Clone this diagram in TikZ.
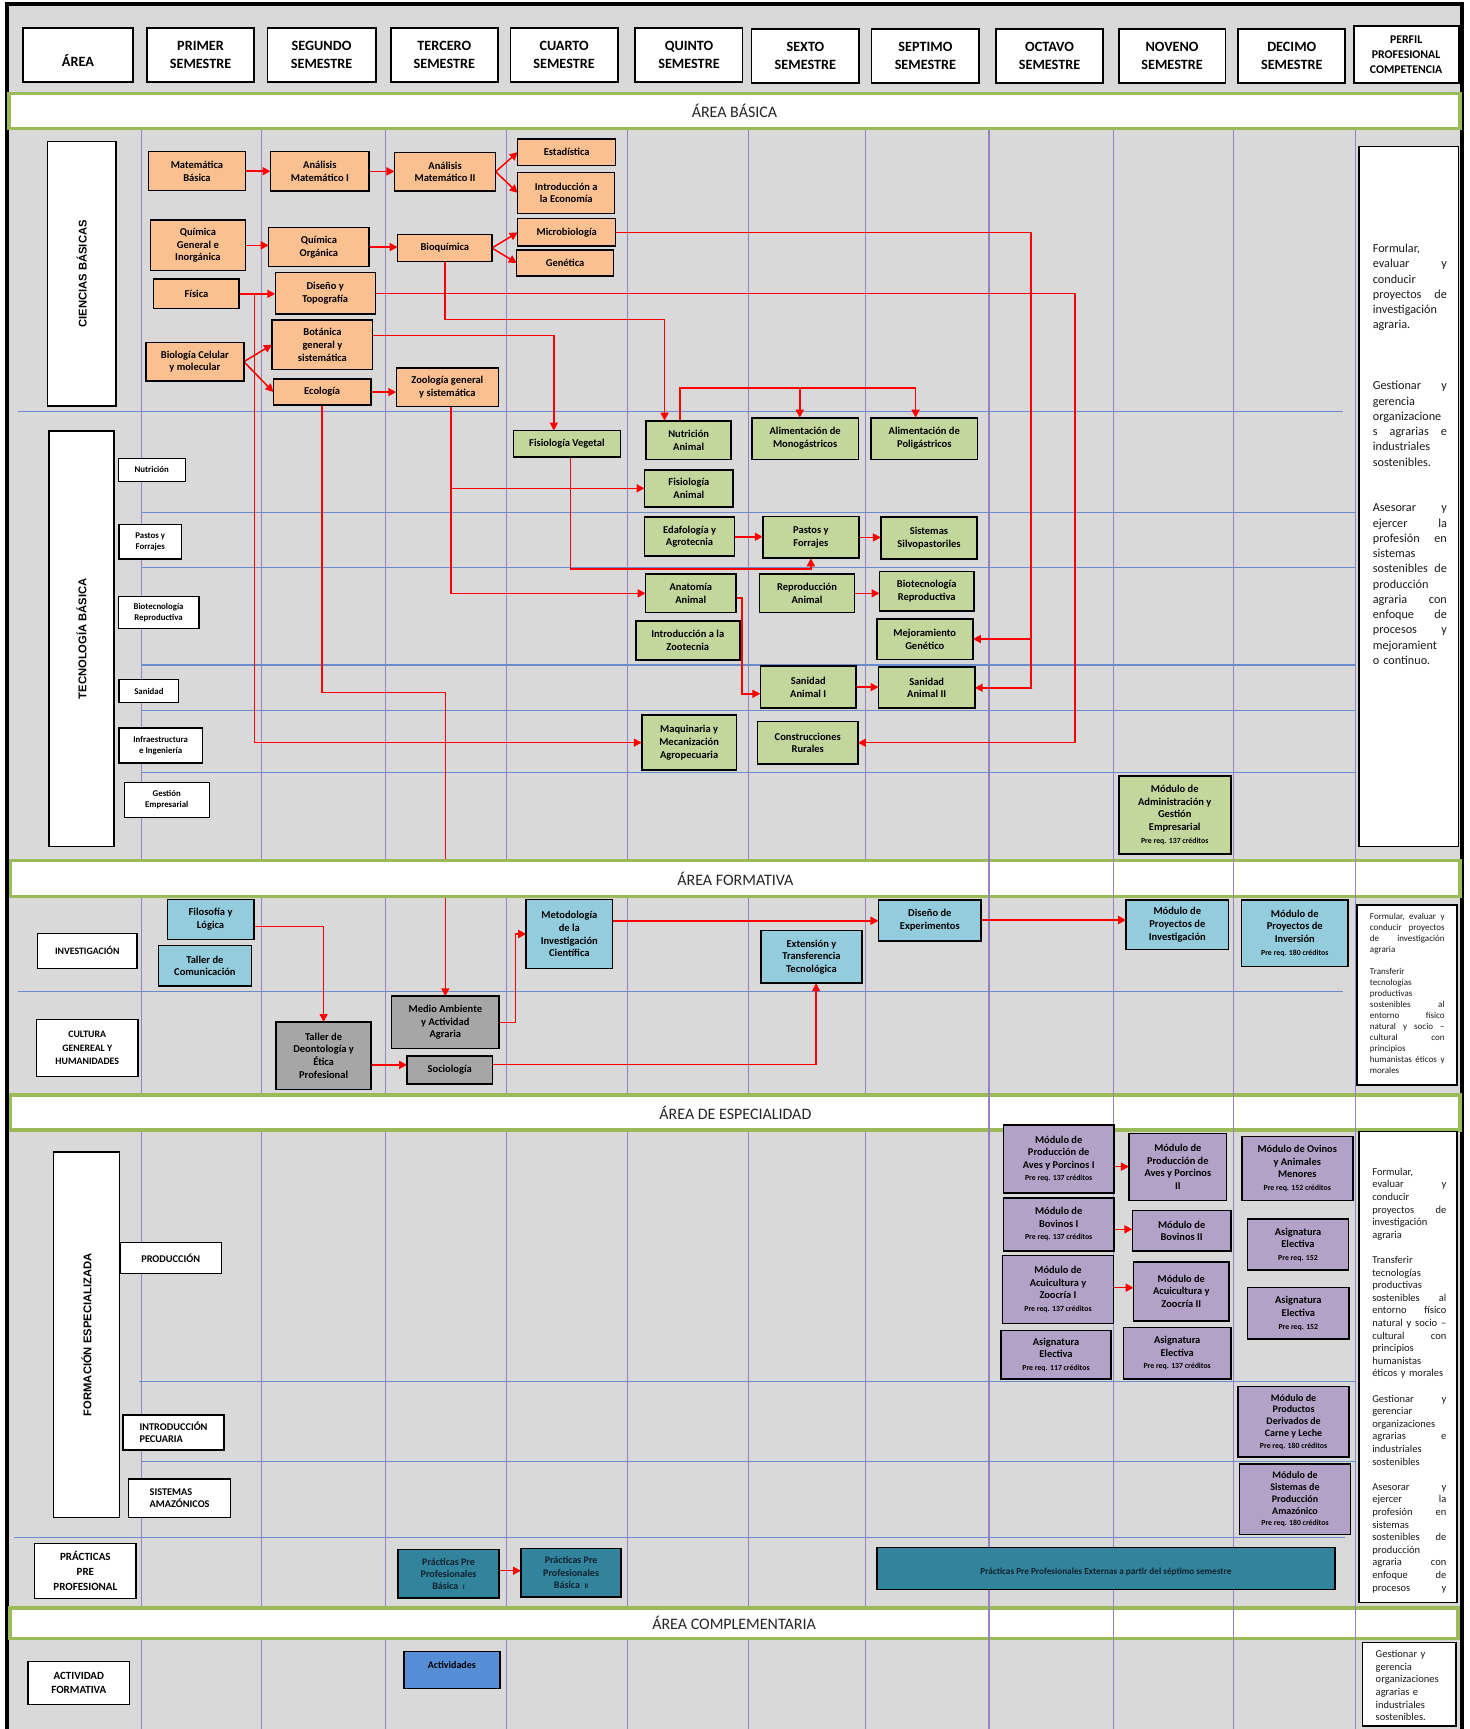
\documentclass[tikz,border=0pt]{standalone}
\usepackage{fontspec}
\setmainfont{Carlito}
\newfontfamily\lsans{Liberation Sans}
\usepackage{graphicx}
\usetikzlibrary{arrows.meta,fit,calc}
\definecolor{bgG}{HTML}{D9D9D9}
\definecolor{orangeF}{HTML}{FAC090}
\definecolor{greenF}{HTML}{C3D69B}
\definecolor{blueF}{HTML}{93CDDD}
\definecolor{grayF}{HTML}{A6A6A6}
\definecolor{purpF}{HTML}{B3A2C7}
\definecolor{tealF}{HTML}{31849B}
\definecolor{tealT}{HTML}{10202E}
\definecolor{actF}{HTML}{558ED5}
\definecolor{barG}{HTML}{9BBB59}
\definecolor{vline}{HTML}{9682C0}
\definecolor{hline}{HTML}{6A8CCB}
\pgfdeclarelayer{bg}\pgfdeclarelayer{conn}
\pgfsetlayers{bg,conn,main}
\newcommand{\mybx}[7]{\node[#2, fit={(#3,#4) (#5,#6)}] (#1) {};
  \node[#2, draw=none, fill=none, anchor=center] (#1t) at (#1.center) {#7};}
\newcommand{\fbx}{\bfseries\fontsize{10.5}{12.7}\selectfont}
\newcommand{\fpu}{\bfseries\fontsize{10.4}{12.6}\selectfont}
\newcommand{\fpus}{\bfseries\fontsize{10}{11.9}\selectfont}
\newcommand{\prq}{\fontsize{7.8}{9.4}\selectfont}
\newcommand{\fhd}{\bfseries\fontsize{14.2}{17.7}\selectfont}
\newcommand{\fpf}{\bfseries\fontsize{11.8}{14.8}\selectfont}
\newcommand{\fbar}{\fontsize{16}{19}\selectfont}
\newcommand{\flab}{\bfseries\fontsize{8.8}{10.5}\selectfont}
\newcommand{\flb}{\bfseries\fontsize{9.8}{13.3}\selectfont}
\newcommand{\flc}{\bfseries\fontsize{11}{14.7}\selectfont}
\newcommand{\fld}{\bfseries\fontsize{10.3}{12.3}\selectfont}
\newcommand{\fvert}{\lsans\bfseries\fontsize{11.2}{13}\selectfont}
\newcommand{\ftl}{\bfseries\fontsize{10}{12.3}\selectfont}
\newcommand{\fpa}{\fontsize{12.2}{15.25}\selectfont\hyphenpenalty=10000}
\newcommand{\fpb}{\fontsize{9}{11}\selectfont\hyphenpenalty=10000}
\newcommand{\fpc}{\fontsize{10.5}{12.6}\selectfont\hyphenpenalty=10000}
\newcommand{\fpd}{\fontsize{10.5}{12.7}\selectfont\hyphenpenalty=10000}
\begin{document}
\begin{tikzpicture}[x=1.105pt,y=-1.105pt,
  bb/.style={draw=black, line width=1.3pt, inner sep=0pt, outer sep=0pt, align=center, font=\fbx},
  ob/.style={bb, fill=orangeF},
  gb/.style={bb, fill=greenF, line width=1.7pt},
  fb/.style={bb, fill=blueF, line width=1.6pt},
  gyb/.style={bb, fill=grayF, line width=1.6pt},
  pb/.style={bb, fill=purpF, line width=1.6pt, font=\fpu},
  pbs/.style={bb, fill=purpF, line width=1.6pt, font=\fpus},
  tb/.style={bb, fill=tealF, line width=1.6pt, text=tealT, font=\ftl},
  hb/.style={bb, fill=white, line width=1.8pt, font=\fhd},
  lb/.style={bb, fill=white, line width=1.3pt, font=\flab},
  ab/.style={bb, fill=white, line width=1.5pt, font=\flb},
  ac/.style={bb, fill=white, line width=1.5pt, font=\flc},
  ad/.style={bb, fill=white, line width=1.5pt, font=\fld, align=left},
  vb/.style={bb, fill=white, line width=1.6pt, font=\fvert},
  wb/.style={bb, fill=white, line width=1.6pt},
  vtx/.style={font=\fvert, rotate=90, inner sep=0pt},
  ptxt/.style={anchor=north west, inner sep=0pt, outer sep=0pt, align=left, text=black!90},
  barst/.style={draw=barG, fill=white, line width=3.5pt, inner sep=0pt, font=\fbar, text=black!85},
  arr/.style={draw=red, line width=1.5pt, -{Triangle[length=8pt,width=8pt]}},
  vl/.style={draw=vline, line width=1.1pt},
  hl/.style={draw=hline, line width=1.1pt}]
\useasboundingbox (0,0) rectangle (1330.3,1564.7);
\begin{pgfonlayer}{bg}
\fill[bgG] (6,3.5) rectangle (1323,1564.7);
\foreach \x in {128,237,349,458,568,677,783,895,1008,1116,1227} \draw[vl] (\x,118) -- (\x,1564.7);
\draw[hl] (16,372.6) -- (1215,372.6);
\foreach \y in {463.7,513.4,601.8,643.1,699} \draw[hl] (128,\y) -- (1227,\y);
\draw[hl] (16,897.4) -- (1215,897.4);
\draw[hl] (126,1250.5) -- (1226,1250.5);
\draw[hl] (128.6,1322.2) -- (1227,1322.2);
\draw[hl] (12.7,1391) -- (1217,1391);
\draw[black, line width=3.5pt] (6.5,1564.7) -- (6.5,3.5) -- (1323,3.5) -- (1323,1564.7);
\end{pgfonlayer}
% bars
\mybx{bar1}{barst}{8}{84.6}{1321.4}{116.4}{ÁREA BÁSICA}
\mybx{bar2}{barst}{9.6}{778.6}{1321.4}{811.4}{ÁREA FORMATIVA}
\mybx{bar3}{barst}{9.6}{991}{1321.4}{1022.5}{ÁREA DE ESPECIALIDAD}
\mybx{bar4}{barst}{9.2}{1455}{1319.4}{1482.6}{ÁREA COMPLEMENTARIA}
\foreach \x in {895,1008,1116,1227} {\draw[vl] (\x,776) -- (\x,814); \draw[vl] (\x,988) -- (\x,1025.5); \draw[vl] (\x,1452) -- (\x,1486);}
% header
\mybx{h0}{hb}{21}{25}{120}{74}{\raisebox{-6pt}[\height][\depth]{ÁREA}}
\mybx{h1}{hb}{133}{25}{230}{74}{PRIMER\\SEMESTRE}
\mybx{h2}{hb}{242}{25}{340}{74}{SEGUNDO\\SEMESTRE}
\mybx{h3}{hb}{353.5}{25}{450.7}{74}{TERCERO\\SEMESTRE}
\mybx{h4}{hb}{462}{25}{559}{74}{CUARTO\\SEMESTRE}
\mybx{h5}{hb}{575}{25}{672}{74}{QUINTO\\SEMESTRE}
\mybx{h6}{hb}{680}{26.5}{777.7}{75}{SEXTO\\SEMESTRE}
\mybx{h7}{hb}{788.7}{26.5}{886.3}{75}{SEPTIMO\\SEMESTRE}
\mybx{h8}{hb}{901.2}{26.5}{998.4}{75}{OCTAVO\\SEMESTRE}
\mybx{h9}{hb}{1012.4}{26.5}{1109}{75}{NOVENO\\SEMESTRE}
\mybx{h10}{hb}{1120.6}{26.5}{1217.4}{75}{DECIMO\\SEMESTRE}
\mybx{h11}{hb, font=\fpf}{1225}{23.5}{1320}{75}{PERFIL\\PROFESIONAL\\COMPETENCIA}
% left labels
\mybx{cb}{vb}{42.9}{128}{104.8}{367.5}{}
\node[vtx] (cbr) at (cb.center) {CIENCIAS BÁSICAS};
\mybx{tbx}{vb}{44.6}{390}{103}{766}{}
\node[vtx] (tbr) at (tbx.center) {TECNOLOGÍA BÁSICA};
\mybx{fe}{vb}{48.3}{1042.5}{108}{1373.4}{}
\node[vtx] (fer) at (fe.center) {FORMACIÓN ESPECIALIZADA};
\mybx{lnut}{lb}{107}{414.8}{167.6}{435.6}{Nutrición}
\mybx{lpf}{lb}{107.8}{474.6}{164.2}{505.9}{Pastos y\\Forrajes}
\mybx{lbr}{lb}{107}{540}{180}{569}{Biotecnología\\Reproductiva}
\mybx{lsan}{lb}{107.8}{614.8}{161.7}{635.9}{Sanidad}
\mybx{linf}{lb}{107.8}{658.9}{183}{690.6}{Infraestructura\\e Ingeniería}
\mybx{lge}{lb}{112.5}{707.9}{189.3}{739.6}{Gestión\\Empresarial}
\mybx{linv}{ab}{34}{844.6}{124}{876.3}{INVESTIGACIÓN}
\mybx{lcul}{ab}{33.1}{922.5}{124.8}{974.4}{CULTURA\\GENEREAL Y\\HUMANIDADES}
\mybx{lprod}{ad, align=center}{108.6}{1124.6}{200.3}{1152.4}{PRODUCCIÓN}
\mybx{lip}{ad}{111.2}{1280.5}{202.9}{1312.2}{INTRODUCCIÓN\\PECUARIA}
\mybx{lsa}{ad}{116.3}{1338.4}{208.8}{1373.4}{SISTEMAS\\AMAZÓNICOS}
\mybx{lpp}{ac}{31.4}{1396.8}{123.1}{1446.6}{PRÁCTICAS\\PRE\\PROFESIONAL}
\mybx{laf}{ac}{25.5}{1503.7}{117.1}{1542.3}{ACTIVIDAD\\FORMATIVA}
% orange
\mybx{mb}{ob}{134.5}{137.3}{222}{172.6}{Matemática\\Básica}
\mybx{am1}{ob}{244.9}{137.3}{334}{172.9}{Análisis\\Matemático I}
\mybx{am2}{ob}{357}{137.9}{448.6}{172.9}{Análisis\\Matemático II}
\mybx{est}{ob}{468.5}{125.8}{557.2}{149.6}{Estadística}
\mybx{ie}{ob}{468.5}{156}{556.4}{193.1}{Introducción a\\la Economía}
\mybx{qg}{ob}{136.2}{199.1}{222}{245}{Química\\General e\\Inorgánica}
\mybx{qo}{ob}{243.2}{205.8}{334}{241.4}{Química\\Orgánica}
\mybx{bq}{ob}{359.9}{212.1}{445.2}{236.8}{Bioquímica}
\mybx{mic}{ob}{468.5}{197.9}{557.2}{222.7}{Microbiología}
\mybx{gen}{ob}{467.7}{226.3}{555.1}{249.8}{Genética}
\mybx{fis}{ob}{139.2}{252.5}{216.4}{279.4}{Física}
\mybx{dt}{ob}{249.1}{246.8}{339.5}{284.2}{Diseño y\\Topografía}
\mybx{bot}{ob}{246.2}{289.6}{337.4}{334.3}{Botánica\\general y\\sistemática}
\mybx{bc}{ob}{132}{309.8}{220.7}{344.8}{Biología Celular\\y molecular}
\mybx{eco}{ob}{247.4}{343}{335.7}{366.6}{Ecología}
\mybx{zoo}{ob}{358.6}{333}{451.1}{368}{Zoología general\\y sistemática}
% green
\mybx{fv}{gb}{464.7}{389.7}{561.5}{413.3}{Fisiología Vegetal}
\mybx{na}{gb}{584.6}{380.7}{661.8}{415.7}{Nutrición\\Animal}
\mybx{amo}{gb}{680.5}{378}{776.8}{415.7}{Alimentación de\\Monogástricos}
\mybx{apo}{gb}{788.3}{378}{884.6}{415.7}{Alimentación de\\Poligástricos}
\mybx{fa}{gb}{583.3}{425.3}{663.5}{458.5}{Fisiología\\Animal}
\mybx{eda}{gb}{583.3}{468.1}{664.8}{503.4}{Edafología y\\Agrotecnia}
\mybx{pf}{gb}{690.3}{467.5}{777.3}{505.2}{Pastos y\\Forrajes}
\mybx{ss}{gb}{797.2}{468.1}{884.2}{505.8}{Sistemas\\Silvopastoriles}
\mybx{ana}{gb}{584.2}{519.6}{666.1}{554.3}{Anatomía\\Animal}
\mybx{ra}{gb}{687.3}{519.6}{773.4}{554.3}{Reproducción\\Animal}
\mybx{br}{gb}{796}{517.2}{881.2}{552.8}{Biotecnología\\Reproductiva}
\mybx{iz}{gb}{575.3}{562}{669.5}{597.3}{Introducción a la\\Zootecnia}
\mybx{mg}{gb}{793.4}{559.9}{880.4}{596.7}{Mejoramiento\\Genético}
\mybx{sa1}{gb}{688.1}{602.7}{774.7}{641}{Sanidad\\Animal I}
\mybx{sa2}{gb}{795.1}{603.9}{882.1}{641}{Sanidad\\Animal II}
\mybx{maq}{gb}{580.8}{647.3}{666.5}{696.8}{Maquinaria y\\Mecanización\\Agropecuaria}
\mybx{cr}{gb}{685.6}{653}{776.4}{691.3}{Construcciones\\Rurales}
\mybx{mag}{gb}{1012.4}{702}{1113.8}{772.9}{Módulo de\\Administración y\\Gestión\\Empresarial\\{\prq Pre req. 137 créditos}}
% formativa
\mybx{filo}{fb}{151.5}{813.9}{229.6}{850.1}{Filosofía y\\Lógica}
\mybx{tc}{fb}{143.4}{855.8}{227.5}{892.3}{Taller de\\Comunicación}
\mybx{met}{fb}{476.2}{813.9}{554.3}{876.6}{Metodología\\de la\\Investigación\\Científica}
\mybx{ext}{fb}{688.5}{842.2}{780.2}{889.8}{Extensión y\\Transferencia\\Tecnológica}
\mybx{de}{fb}{795}{814.5}{888}{851.3}{Diseño de\\Experimentos}
\mybx{mpi}{fb}{1019.2}{814.5}{1111.7}{859.4}{Módulo de\\Proyectos de\\Investigación}
\mybx{mpv}{fb}{1123.6}{814.5}{1219.9}{874.5}{Módulo de\\Proyectos de\\Inversión\\{\prq Pre req. 180 créditos}}
\mybx{tde}{gyb}{250}{924.9}{335.7}{985.8}{Taller de\\Deontología y\\Ética\\Profesional}
\mybx{maa}{gyb}{354.4}{901.6}{451.6}{949}{Medio Ambiente\\y Actividad\\Agraria}
\mybx{soc}{gyb}{368.4}{955.9}{445.6}{980.9}{Sociología}
% especialidad
\mybx{av1}{pb}{908}{1018.1}{1008.2}{1079.4}{Módulo de\\Producción de\\Aves y Porcinos I\\{\prq Pre req. 137 créditos}}
\mybx{av2}{pb}{1021.7}{1025.6}{1110.1}{1086.5}{Módulo de\\Producción de\\Aves y Porcinos\\II}
\mybx{ov}{pb}{1123.7}{1028.6}{1224.3}{1086.5}{Módulo de Ovinos\\y Animales\\Menores\\{\prq Pre req. 152 créditos}}
\mybx{bo1}{pb}{908}{1083.9}{1008.2}{1132.1}{Módulo de\\Bovinos I\\{\prq Pre req. 137 créditos}}
\mybx{bo2}{pb}{1024.7}{1095.6}{1114}{1132.1}{Módulo de\\Bovinos II}
\mybx{ae1}{pb}{1128.8}{1103.4}{1220.5}{1149.3}{Asignatura\\Electiva\\{\prq Pre req. 152}}
\mybx{ac1}{pb}{907.4}{1136.3}{1007.5}{1197.6}{Módulo de\\Acuicultura y\\Zoocría I\\{\prq Pre req. 137 créditos}}
\mybx{ac2}{pb}{1025.9}{1141.8}{1112.2}{1195.5}{Módulo de\\Acuicultura y\\Zoocría II}
\mybx{ae2}{pb}{1129.1}{1165.3}{1220.8}{1211.8}{Asignatura\\Electiva\\{\prq Pre req. 152}}
\mybx{ae3}{pb}{905.9}{1204.2}{1005.4}{1247.9}{Asignatura\\Electiva\\{\prq Pre req. 117 créditos}}
\mybx{ae4}{pb}{1016.6}{1201.2}{1114}{1247.9}{Asignatura\\Electiva\\{\prq Pre req. 137 créditos}}
\mybx{pdc}{pbs}{1120.3}{1254.9}{1221}{1318.8}{Módulo de\\Productos\\Derivados de\\Carne y Leche\\{\prq Pre req. 180 créditos}}
\mybx{spa}{pbs}{1121.7}{1324.9}{1222.2}{1388.6}{Módulo de\\Sistemas de\\Producción\\Amazónico\\{\prq Pre req. 180 créditos}}
% practicas
\mybx{pb1}{tb}{360.3}{1402.2}{451.6}{1446.3}{Prácticas Pre\\Profesionales\\Básica~~{\fontsize{7}{8}\selectfont I}}
\mybx{pb2}{tb}{471.5}{1401.2}{562.2}{1445}{Prácticas Pre\\Profesionales\\Básica~~{\fontsize{7}{8}\selectfont II}}
\mybx{pext}{tb, font=\bfseries\fontsize{9.2}{11}\selectfont}{793.7}{1400.6}{1208}{1438.3}{\raisebox{-3pt}[\height][\depth]{Prácticas Pre Profesionales Externas a partir del séptimo semestre}}
\mybx{act}{bb, fill=actF, line width=1.6pt, font=\ftl}{365.4}{1494.7}{452.4}{1528.2}{\raisebox{5pt}[\height][\depth]{Actividades}}
% perfil
\mybx{p1}{wb}{1230}{132.7}{1320}{766}{}
\mybx{p2}{wb}{1228}{819}{1318.8}{981.9}{}
\mybx{p3}{wb}{1229.8}{1024.1}{1318.8}{1450.3}{}
\mybx{p4}{wb}{1232.9}{1486.3}{1317.4}{1561.9}{}
\node[ptxt, text width=74pt, font=\fpa] (p1x) at (1242.4,221) {Formular,\\evaluar\hfill y\\conducir\\proyectos\hfill de\\investigación\\agraria.\\[45.75pt]Gestionar\hfill y\\gerencia\\organizacione\\s\hfill agrarias\hfill e\\industriales\\sostenibles.\\[30.5pt]Asesorar\hfill y\\ejercer\hfill la\\profesión\hfill en\\sistemas\\sostenibles\hfill de\\producción\\agraria\hfill con\\enfoque\hfill de\\procesos\hfill y\\mejoramient\\o continuo.};
\node[ptxt, text width=74.6pt, font=\fpb] (p2x) at (1239.8,826.3) {Formular,\hfill evaluar\hfill y\\conducir\hfill proyectos\\de\hfill investigación\\agraria\\[11pt]Transferir\\tecnologías\\productivas\\sostenibles\hfill al\\entorno\hfill físico\\natural\hfill y\hfill socio\hfill –\\cultural\hfill con\\principios\\humanistas\hfill éticos\hfill y\\morales};
\node[ptxt, text width=74pt, font=\fpc] (p3x) at (1241.9,1057) {Formular,\\evaluar\hfill y\\conducir\\proyectos\hfill de\\investigación\\agraria\\[12.6pt]Transferir\\tecnologías\\productivas\\sostenibles\hfill al\\entorno\hfill físico\\natural\hfill y\hfill socio\hfill –\\cultural\hfill con\\principios\\humanistas\\éticos y morales\\[12.6pt]Gestionar\hfill y\\gerenciar\\organizaciones\\agrarias\hfill e\\industriales\\sostenibles\\[12.6pt]Asesorar\hfill y\\ejercer\hfill la\\profesión\hfill en\\sistemas\\sostenibles\hfill de\\producción\\agraria\hfill con\\enfoque\hfill de\\procesos\hfill y};
\node[ptxt, text width=75pt, font=\fpd] (p4x) at (1245,1493.3) {Gestionar y\\gerencia\\organizaciones\\agrarias e\\industriales\\sostenibles.};
% connectors
\begin{pgfonlayer}{conn}
\draw[arr] (mb.east) -- (mb.east -| am1.west);
\draw[arr] (am1.east) -- (am1.east -| am2.west);
\draw[arr] (am2.east) -- (est.west);
\draw[arr] (am2.east) -- (ie.west);
\draw[arr] (qg.east) -- (qg.east -| qo.west);
\draw[arr] (qo.east) -- (qo.east -| bq.west);
\draw[arr] (bq.east) -- (mic.west);
\draw[arr] (bq.east) -- (gen.west);
\draw[arr] (fis.east) -- (fis.east -| dt.west);
\draw[arr] (bc.east) -- (bot.west);
\draw[arr] (bc.east) -- (eco.west);
\draw[arr] (eco.east) -- (eco.east -| zoo.west);
\coordinate (jm) at ($(mg.east)+(52.6,0)$);
\draw[arr] (mic.east) -| (jm) |- (sa2.east);
\draw[arr] (jm) -- (mg.east);
\draw[arr] (dt.east) -| ($(cr.east)+(196.5,0)$) -- (cr.east);
\draw[arr] (bq.south) |- ($(na.north)+(-21.8,-91.7)$) -- ($(na.north)+(-21.8,0)$);
\draw[arr] ($(bot.east)+(0,-8.2)$) -| ($(fv.north)+(-11.9,0)$);
\draw[arr] ($(na.north)+(-7.8,0)$) |- ($(apo.north)+(-7.9,-27.1)$) -- ($(apo.north)+(-7.9,0)$);
\draw[arr] ($(amo.north)+(-4.9,-27.1)$) -- ($(amo.north)+(-4.9,0)$);
\draw[arr] ($(fis.east)+(14.1,0)$) |- (maq.west);
\draw[arr] (eco.south) |- ($(maa.north)+(0,-274.7)$) -- (maa.north);
\coordinate (jz) at ($(zoo.south)+(3.5,0)$);
\draw[arr] (jz) |- (ana.west);
\draw[arr] (jz |- fa.west) -- (fa.west);
\draw[arr] ($(fv.south)+(3.4,0)$) |- ($(pf.south)+(0,9.8)$) -- (pf.south);
\draw[arr] (eda.east) -- (eda.east -| pf.west);
\draw[arr] (pf.east) -- (pf.east -| ss.west);
\draw[arr] (ra.east) -- (ra.east -| br.west);
\draw[arr] ($(ana.east)+(0,4)$) -| ($(sa1.west)+(-16.5,6)$) -- ($(sa1.west)+(0,6)$);
\draw[arr] (sa1.east) -- (sa1.east -| sa2.west);
\draw[arr] ($(filo.east)+(0,6.3)$) -| (tde.north);
\draw[arr] (maa.east) -| ($(met.west)+(-9.8,0)$) -- (met.west);
\draw[arr] ($(tde.east)+(0,8.35)$) coordinate (t1) -- (t1 -| soc.west);
\draw[arr] ($(soc.east)+(0,-5)$) -| ($(ext.south)+(4.2,0)$);
\draw[arr] ($(met.east)+(0,-12)$) coordinate (m1) -- (m1 -| de.west);
\draw[arr] ($(de.east)+(0,-0.3)$) coordinate (d1) -- (d1 -| mpi.west);
\draw[arr] ($(av1.east)+(0,7)$) coordinate (a1) -- (a1 -| av2.west);
\draw[arr] ($(bo1.east)+(0,4.5)$) coordinate (b1) -- (b1 -| bo2.west);
\draw[arr] ($(ac1.east)+(0,-1.6)$) coordinate (c1) -- (c1 -| ac2.west);
\draw[arr] ($(pb1.east)+(0,-2.8)$) coordinate (q1) -- (q1 -| pb2.west);
\end{pgfonlayer}
\end{tikzpicture}
\end{document}
